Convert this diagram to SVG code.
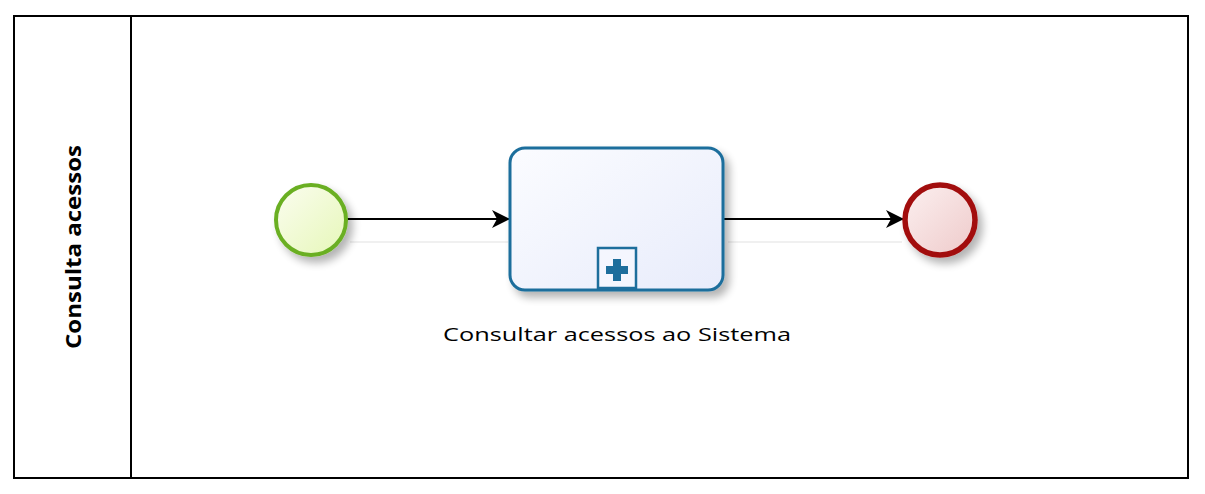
<svg xmlns="http://www.w3.org/2000/svg" width="1205" height="494" viewBox="0 0 1205 494">
<style>
.lbl{font-family:"Open Sans","Noto Sans","DejaVu Sans",sans-serif;fill:#000}
.flow{stroke:#000;stroke-width:2;fill:none}
.refl{stroke:#f0f0f0;stroke-width:2;fill:none}
</style>
<defs>
<filter id="sh" x="-30%" y="-30%" width="170%" height="170%">
<feGaussianBlur in="SourceAlpha" stdDeviation="4"/>
<feOffset dx="5" dy="6" result="b"/>
<feComponentTransfer><feFuncA type="linear" slope="0.3"/></feComponentTransfer>
<feMerge><feMergeNode/><feMergeNode in="SourceGraphic"/></feMerge>
</filter>
<linearGradient id="gStart" x1="0" y1="0" x2="1" y2="1">
<stop offset="0" stop-color="#fbfdf0"/><stop offset="1" stop-color="#e6f7b8"/>
</linearGradient>
<linearGradient id="gEnd" x1="0" y1="0" x2="1" y2="1">
<stop offset="0" stop-color="#fcf0f0"/><stop offset="1" stop-color="#eecaca"/>
</linearGradient>
<linearGradient id="gTask" x1="0" y1="0" x2="1" y2="1">
<stop offset="0" stop-color="#fbfcff"/><stop offset="1" stop-color="#e8ecfb"/>
</linearGradient>
<marker id="arr" viewBox="0 0 18 18" refX="17" refY="9" markerWidth="18" markerHeight="18" markerUnits="userSpaceOnUse" orient="auto">
<path d="M0,0 L18,9 L0,18 L5,9 Z" fill="#000"/>
</marker>
</defs>
<rect width="1205" height="494" fill="#fff"/>
<g id="pool">
<rect x="14" y="16" width="1174" height="462" fill="none" stroke="#000" stroke-width="2"/>
<line x1="131" y1="16" x2="131" y2="478" stroke="#000" stroke-width="2"/>
<text class="lbl" transform="translate(81,247) rotate(-90)" text-anchor="middle" font-size="22" font-weight="bold" textLength="204" lengthAdjust="spacingAndGlyphs">Consulta acessos</text>
</g>
<g id="connectors">
<line class="refl" x1="350" y1="242" x2="508" y2="242"/>
<line class="refl" x1="728" y1="242" x2="902" y2="242"/>
<line class="flow" x1="347" y1="219" x2="509" y2="219" marker-end="url(#arr)"/>
<line class="flow" x1="724" y1="219" x2="903" y2="219" marker-end="url(#arr)"/>
</g>
<g id="start">
<circle cx="311" cy="220" r="35" fill="url(#gStart)" stroke="#6aaf23" stroke-width="4" filter="url(#sh)"/>
</g>
<g id="task">
<rect x="510" y="148" width="213" height="142" rx="15" fill="url(#gTask)" stroke="#1d6e9c" stroke-width="3" filter="url(#sh)"/>
<rect x="598" y="248" width="38" height="40" fill="#f4f6fe" stroke="#1d6e9c" stroke-width="2.5"/>
<path d="M613,259 h8 v7 h7 v8 h-7 v7 h-8 v-7 h-7 v-8 h7 z" fill="#1d6e9c"/>
<text class="lbl" x="617" y="341" text-anchor="middle" font-size="19" textLength="348" lengthAdjust="spacingAndGlyphs">Consultar acessos ao Sistema</text>
</g>
<g id="end">
<circle cx="940" cy="220" r="35" fill="url(#gEnd)" stroke="#a20d0d" stroke-width="5.5" filter="url(#sh)"/>
</g>
</svg>
